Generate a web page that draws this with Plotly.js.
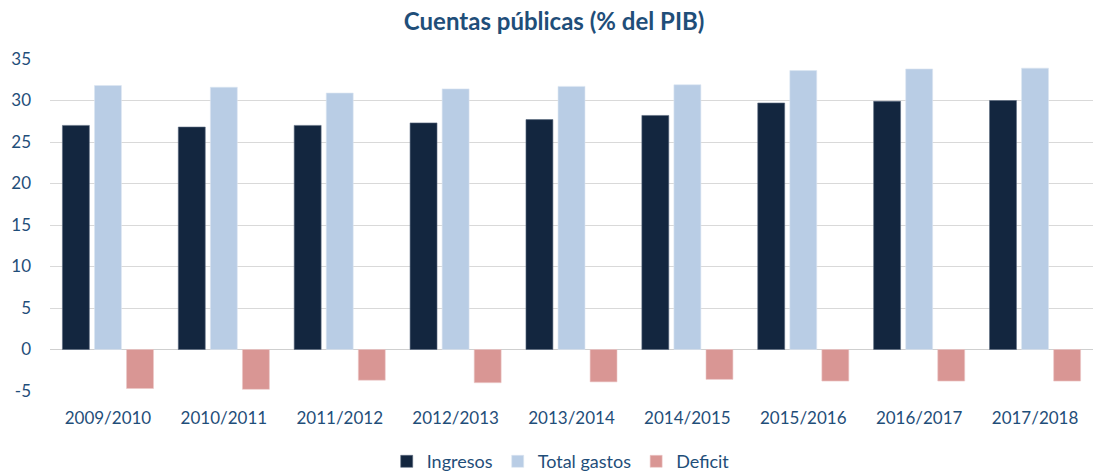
<!DOCTYPE html>
<html>
<head>
<meta charset="utf-8">
<script src="https://cdn.plot.ly/plotly-3.0.1.min.js"></script>
<style>html,body{margin:0;padding:0;background:#fff;}#chart{width:1093px;height:472px;}</style>
</head>
<body>
<div id="chart"></div>
<script>
const categories = ["2009/2010","2010/2011","2011/2012","2012/2013","2013/2014","2014/2015","2015/2016","2016/2017","2017/2018"];
const ingresos = [27.0, 26.8, 27.0, 27.3, 27.7, 28.2, 29.7, 29.9, 30.0];
const totalGastos = [31.8, 31.6, 30.9, 31.4, 31.7, 31.9, 33.6, 33.8, 33.9];
const deficit = [-4.7, -4.8, -3.7, -4.0, -3.9, -3.6, -3.8, -3.8, -3.8];
const yTicks = [-5, 0, 5, 10, 15, 20, 25, 30, 35];

const fontFam = "Lato, 'Open Sans', sans-serif";
const textColor = "#1f4e79";

const traces = [
  {type:"bar", name:"Ingresos", x:categories, y:ingresos, marker:{color:"#13263f", line:{color:"#5a6a80", width:0.6}}},
  {type:"bar", name:"Total gastos", x:categories, y:totalGastos, marker:{color:"#b9cde5", line:{color:"#dce6f2", width:0.6}}},
  {type:"bar", name:"Deficit", x:categories, y:deficit, marker:{color:"#d99694", line:{color:"#ecc8c7", width:0.6}}}
];

const layout = {
  width:1093, height:472,
  margin:{l:50, r:0, t:59, b:81},
  paper_bgcolor:"#fff", plot_bgcolor:"#fff",
  font:{family:fontFam, size:17, color:textColor},
  title:{text:"<b>Cuentas públicas (% del PIB)</b>", font:{family:fontFam, size:24, color:textColor}, x:0.507, xanchor:"center", y:0.955, yanchor:"middle"},
  barmode:"group", bargap:0.17, bargroupgap:0.16,
  showlegend:true,
  legend:{orientation:"h", x:0.513, xanchor:"center", xref:"container", y:0.022, yanchor:"middle", yref:"container", font:{size:18, color:textColor}, traceorder:"normal", itemwidth:30},
  xaxis:{type:"category", tickfont:{size:17, color:textColor}, showgrid:false, showline:false, ticks:"", ticklabelstandoff:15, fixedrange:true},
  yaxis:{range:[-5,35], tickvals:yTicks, ticktext:yTicks.map(String), tickfont:{size:17, color:textColor}, gridcolor:"#d9d9d9", gridwidth:1, zeroline:true, zerolinecolor:"#cfcfcf", zerolinewidth:1.2, showline:false, ticks:"", ticklabelstandoff:18, fixedrange:true, automargin:false}
};

Plotly.newPlot("chart", traces, layout, {displayModeBar:false, staticPlot:true});
</script>
</body>
</html>
